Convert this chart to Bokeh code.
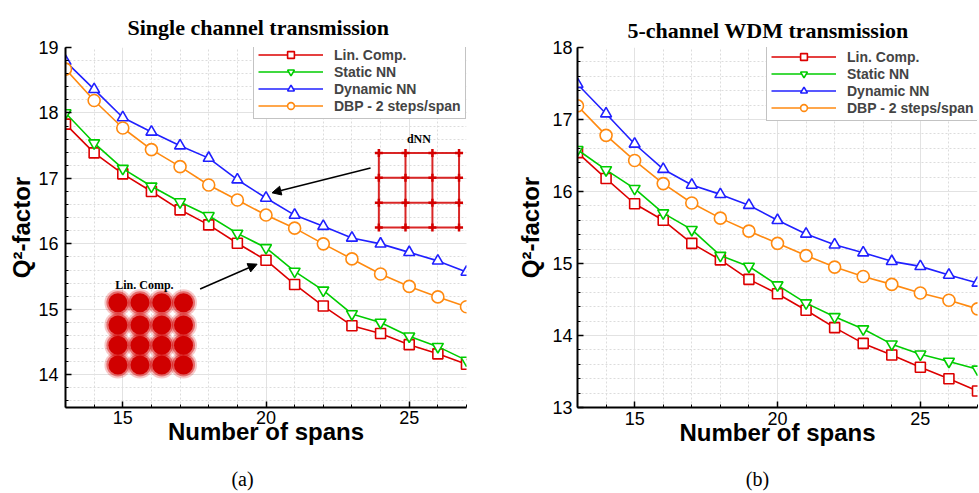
from bokeh.plotting import figure
from bokeh.layouts import row, column
from bokeh.models import (Range1d, SingleIntervalTicker, Legend, LegendItem,
                          Arrow, NormalHead)
from bokeh.core.properties import value
from bokeh.embed import file_html
from bokeh.resources import INLINE

# ---------------- data ----------------
spans = list(range(13, 28))
series_names = ["Lin. Comp.", "Static NN", "Dynamic NN", "DBP - 2 steps/span"]

a_lin = [17.83, 17.39, 17.07, 16.80, 16.52, 16.29, 16.01, 15.75, 15.38, 15.05, 14.75, 14.63, 14.46, 14.32, 14.16]
a_snn = [18.00, 17.54, 17.15, 16.88, 16.64, 16.43, 16.16, 15.94, 15.58, 15.29, 14.93, 14.80, 14.59, 14.43, 14.22]
a_dnn = [18.79, 18.36, 17.93, 17.71, 17.50, 17.31, 16.98, 16.70, 16.44, 16.27, 16.09, 16.00, 15.87, 15.74, 15.57]
a_dbp = [18.67, 18.19, 17.77, 17.44, 17.18, 16.90, 16.67, 16.44, 16.24, 16.00, 15.77, 15.54, 15.35, 15.19, 15.04]

b_lin = [16.54, 16.18, 15.83, 15.60, 15.28, 15.05, 14.78, 14.58, 14.35, 14.11, 13.89, 13.73, 13.56, 13.40, 13.23]
b_snn = [16.58, 16.30, 16.04, 15.70, 15.47, 15.11, 14.96, 14.70, 14.45, 14.26, 14.09, 13.88, 13.74, 13.64, 13.53]
b_dnn = [17.49, 17.08, 16.66, 16.31, 16.09, 15.96, 15.81, 15.60, 15.41, 15.26, 15.15, 15.03, 14.96, 14.84, 14.73]
b_dbp = [17.19, 16.78, 16.43, 16.11, 15.84, 15.63, 15.45, 15.28, 15.11, 14.95, 14.82, 14.71, 14.59, 14.49, 14.37]

colors = ["#dc0000", "#00cc00", "#2020ff", "#ff8a10"]
markers = ["square", "inverted_triangle", "triangle", "circle"]
msizes = [10, 11, 11, 12]

SANS = "Liberation Sans"
SERIF = "Liberation Serif"


def make_panel(title, title_offset, title_standoff, ys, yrange, width, height, mb,
               legend_loc, xstand, ystand):
    p = figure(width=width, height=height, output_backend="svg", toolbar_location=None,
               x_range=Range1d(13, 27), y_range=Range1d(*yrange),
               min_border_left=mb[0], min_border_right=mb[1],
               min_border_top=mb[2], min_border_bottom=mb[3])
    p.outline_line_color = None
    p.background_fill_color = "white"
    p.border_fill_color = "white"

    p.title.text = title
    p.title.text_font = SERIF
    p.title.text_font_size = "22px"
    p.title.text_font_style = "bold"
    p.title.text_color = "black"
    p.title.align = "left"
    p.title.offset = title_offset
    p.title.standoff = title_standoff

    p.xaxis.ticker = SingleIntervalTicker(interval=5, num_minor_ticks=5)
    p.yaxis.ticker = SingleIntervalTicker(interval=1, num_minor_ticks=5)
    for ax in (p.xaxis, p.yaxis):
        ax.axis_line_width = 2
        ax.axis_line_color = "black"
        ax.major_tick_in = 6
        ax.major_tick_out = 0
        ax.minor_tick_in = 3
        ax.minor_tick_out = 0
        ax.major_tick_line_width = 1.5
        ax.major_label_text_font = SANS
        ax.major_label_text_font_size = "18px"
        ax.major_label_text_color = "black"
        ax.axis_label_text_font = SANS
        ax.axis_label_text_font_size = "24px"
        ax.axis_label_text_font_style = "bold"
        ax.axis_label_text_color = "black"
    p.xaxis.axis_label = "Number of spans"
    p.yaxis.axis_label = "Q\u00b2-factor"
    p.xaxis.major_label_standoff = xstand[0]
    p.xaxis.axis_label_standoff = xstand[1]
    p.yaxis.major_label_standoff = ystand[0]
    p.yaxis.axis_label_standoff = ystand[1]

    for g in (p.xgrid, p.ygrid):
        g.grid_line_color = "#e2e2e2"
        g.grid_line_width = 1
        g.minor_grid_line_color = "#dcdcdc"
        g.minor_grid_line_dash = "2 2"

    items = []
    for name, y, c, m, s in zip(series_names, ys, colors, markers, msizes):
        ln = p.line(spans, y, line_color=c, line_width=1.6)
        sc = p.scatter(spans, y, marker=m, size=s, line_color=c, line_width=1.6,
                       fill_color="white")
        items.append(LegendItem(label=name, renderers=[ln, sc]))

    leg = Legend(items=items, location=legend_loc, orientation="vertical")
    leg.glyph_width = 65
    leg.glyph_height = 17
    leg.label_height = 17
    leg.spacing = 0
    leg.padding = 4
    leg.margin = 0
    leg.label_standoff = 11
    leg.label_text_font = SANS
    leg.label_text_font_size = "14px"
    leg.label_text_font_style = "bold"
    leg.border_line_color = "#888888"
    leg.border_line_width = 1
    leg.background_fill_alpha = 1
    p.add_layout(leg)
    return p


def make_caption(text, width, x0, xpos):
    c = figure(width=width, height=28, output_backend="svg", toolbar_location=None,
               x_range=Range1d(x0, x0 + width), y_range=Range1d(0, 28),
               min_border=0)
    c.axis.visible = False
    c.grid.visible = False
    c.outline_line_color = None
    c.text([xpos], [15], text=[text], text_font=value(SERIF), text_font_size="20px",
           text_align="center", text_baseline="middle", text_color="black")
    return c


# ---------------- panel (a) ----------------
pa = make_panel("Single channel transmission", 62, 15, [a_lin, a_snn, a_dnn, a_dbp],
                (13.5, 19), 500, 465, (65, 34, 47, 53), (188, 288), (3, -9), (7, 0))

# inset: Lin. Comp. constellation (4x4 noisy clouds)
lin_cols = [14.83, 15.60, 16.36, 17.12]
lin_rows = [15.10, 14.76, 14.45, 14.15]
bx = [x for x in lin_cols for _ in lin_rows]
by = [y for _ in lin_cols for y in lin_rows]
pa.scatter(bx, by, marker="circle", size=27, fill_color="#d40000", fill_alpha=0.22, line_color=None)
pa.scatter(bx, by, marker="circle", size=23, fill_color="#d40000", fill_alpha=0.45, line_color=None)
pa.scatter(bx, by, marker="circle", size=19, fill_color="#d00000", fill_alpha=1.0, line_color=None)
pa.text([15.755], [15.378], text=["Lin. Comp."], text_font=value(SERIF), text_font_style="bold",
        text_font_size="12px", text_align="center", text_baseline="middle", text_color="black")

# inset: dNN constellation (grid-like)
d_cols = [23.94, 24.87, 25.81, 26.74]
d_rows = [17.39, 17.01, 16.63, 16.25]
pa.segment(x0=[d_cols[0]] * 4, y0=d_rows, x1=[d_cols[-1]] * 4, y1=d_rows,
           line_color="#d40000", line_width=2, line_alpha=0.85)
pa.segment(x0=d_cols, y0=[d_rows[0]] * 4, x1=d_cols, y1=[d_rows[-1]] * 4,
           line_color="#d40000", line_width=2, line_alpha=0.85)
dx = [x for x in d_cols for _ in d_rows]
dy = [y for _ in d_cols for y in d_rows]
pa.scatter(dx, dy, marker="cross", size=8, line_color="#d40000", line_width=2.5)
pa.text([25.34], [17.60], text=["dNN"], text_font=value(SERIF), text_font_style="bold",
        text_font_size="12px", text_align="center", text_baseline="middle", text_color="black")

pa.add_layout(Arrow(end=NormalHead(size=9, fill_color="black", line_color="black"),
                    x_start=23.65, y_start=17.16, x_end=20.21, y_end=16.78,
                    line_color="black", line_width=1.5))
pa.add_layout(Arrow(end=NormalHead(size=9, fill_color="black", line_color="black"),
                    x_start=17.70, y_start=15.31, x_end=19.69, y_end=15.69,
                    line_color="black", line_width=1.5))

# ---------------- panel (b) ----------------
pb = make_panel("5-channel WDM transmission", 50, 10, [b_lin, b_snn, b_dnn, b_dbp],
                (13, 18), 479, 465, (77, 2, 44, 58), (189, 286), (4, -9), (5, 5))

ca = make_caption("(a)", 500, 0, 242)
cb = make_caption("(b)", 479, 500, 757)

layout = column(row(pa, pb), row(ca, cb))
open("out.html", "w").write(file_html(layout, INLINE))
